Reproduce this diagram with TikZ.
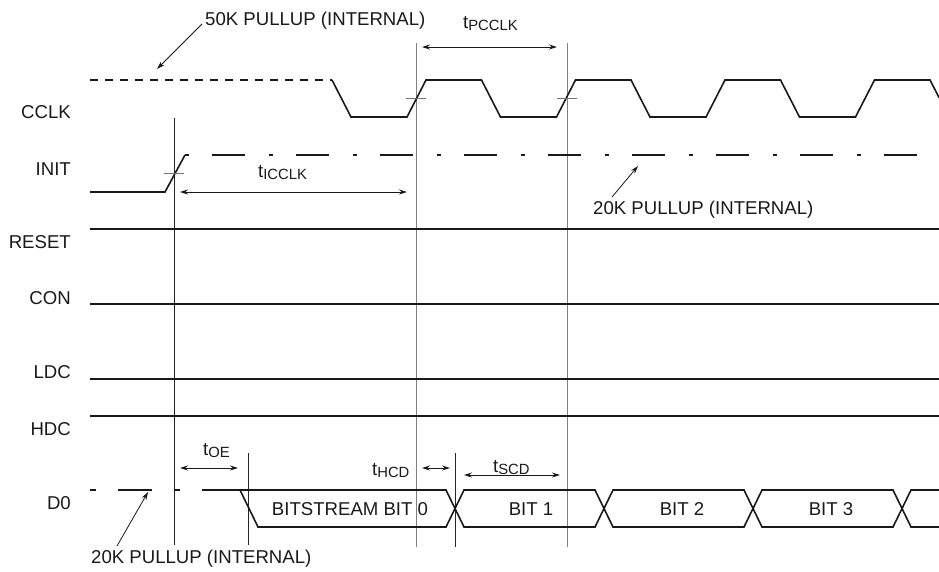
\documentclass[tikz,border=0pt]{standalone}
\usepackage{fontspec}
\setmainfont{Liberation Sans}
\usetikzlibrary{arrows.meta}
\newcommand{\tlab}[1]{t\raisebox{-2pt}{\fontsize{14.8}{14.8}\selectfont #1}}
\begin{document}
\begin{tikzpicture}[x=1pt,y=-1pt,
  sig/.style={line width=1.6pt,line join=miter,color=black!90},
  vline/.style={line width=0.9pt,color=black!85},
  gline/.style={line width=1pt,color=black!50},
  tickm/.style={line width=0.9pt,color=black!55},
  dim/.style={line width=0.9pt,color=black!90,{Stealth[length=8pt,width=5pt]}-{Stealth[length=8pt,width=5pt]}},
  pointer/.style={line width=0.8pt,color=black!90,-{Stealth[length=8pt,width=5pt]}},
  lbl/.style={font=\fontsize{18.6}{20}\selectfont,inner sep=0pt,text=black!90},
  sname/.style={lbl,anchor=base east}]
\useasboundingbox (0,0) rectangle (939,571);
\fill[white] (0,0) rectangle (939,571);

% signal names
\node[sname] (nCCLK) at (71,118) {CCLK};
\node[sname] (nINIT) at (71,175) {INIT};
\node[sname] (nRESET) at (71,248) {RESET};
\node[sname] (nCON) at (71,304) {CON};
\node[sname] (nLDC) at (71,378) {LDC};
\node[sname] (nHDC) at (71,435) {HDC};
\node[sname] (nD0) at (71,509) {D0};

% vertical reference lines
\draw[vline] (174,118) -- (174,545);
\draw[gline] (416,43) -- (416,547);
\draw[gline] (567,43) -- (567,547);
\draw[vline] (248,453) -- (248,545);
\draw[vline] (455,453) -- (455,547);

% CCLK
\draw[sig,dash pattern=on 8pt off 7pt] (90,80) -- (332,80);
\draw[sig] (332,80) -- (351,117) -- (407,117) -- (426,80) -- (481.5,80)
  -- (500.5,117) -- (556.5,117) -- (575.5,80) -- (631,80) -- (650,117)
  -- (706,117) -- (725,80) -- (780.5,80) -- (799.5,117) -- (855.5,117)
  -- (874.5,80) -- (930,80) -- (939,97.5);
\draw[tickm] (406,98.5) -- (426,98.5);
\draw[tickm] (557,98.5) -- (577,98.5);

% INIT
\draw[sig] (90,192) -- (165,192) -- (185,155);
\draw[sig,dash pattern=on 4pt off 23pt on 33pt off 24pt] (185,155) -- (939,155);
\draw[tickm] (164,173.5) -- (184,173.5);

% static lines
\draw[sig] (90,229) -- (939,229);
\draw[sig] (90,304) -- (939,304);
\draw[sig] (90,379) -- (939,379);
\draw[sig] (90,416) -- (939,416);

% D0
\draw[sig] (90,490) -- (96,490);
\draw[sig] (118,490) -- (152,490);
\draw[sig] (174,490) -- (180,490);
\draw[sig] (202,490) -- (446,490) -- (464,527) -- (595,527) -- (613,490) -- (744,490) -- (762,527) -- (893,527) -- (911,490) -- (939,490);
\draw[sig] (240,490) -- (258,527) -- (446,527) -- (464,490) -- (595,490) -- (613,527) -- (744,527) -- (762,490) -- (893,490) -- (911,527) -- (939,527);

\node[lbl,anchor=base] (b0) at (350,515) {BITSTREAM BIT 0};
\node[lbl,anchor=base] (b1) at (531,515) {BIT 1};
\node[lbl,anchor=base] (b2) at (682,515) {BIT 2};
\node[lbl,anchor=base] (b3) at (831,515) {BIT 3};

% timing annotations
\node[lbl,anchor=base west] (tpcclk) at (463,28) {\tlab{PCCLK}};
\coordinate (pa) at (422,47); \coordinate (pb) at (557,47);
\draw[dim] (pa) -- (pb);
\node[lbl,anchor=base west] (ticclk) at (258,177) {\tlab{ICCLK}};
\coordinate (ia) at (180,192); \coordinate (ib) at (407,192);
\draw[dim] (ia) -- (ib);
\node[lbl,anchor=base west] (toe) at (203,455) {\tlab{OE}};
\coordinate (oa) at (180,468); \coordinate (ob) at (238,468);
\draw[dim] (oa) -- (ob);
\node[lbl,anchor=base west] (thcd) at (372,475) {\tlab{HCD}};
\coordinate (ha) at (422,468); \coordinate (hb) at (450,468);
\draw[dim] (ha) -- (hb);
\node[lbl,anchor=base west] (tscd) at (493,472) {\tlab{SCD}};
\coordinate (sa) at (464,475); \coordinate (sb) at (560,475);
\draw[dim] (sa) -- (sb);

% pullup notes
\node[lbl,anchor=base west] (n50k) at (205,25) {50K PULLUP (INTERNAL)};
\coordinate (a50t) at (202,24); \coordinate (a50h) at (157,69);
\draw[pointer] (a50t) -- (a50h);
\node[lbl,anchor=base west] (n20ka) at (593,214) {20K PULLUP (INTERNAL)};
\coordinate (a20t) at (612,197); \coordinate (a20h) at (638,166);
\draw[pointer] (a20t) -- (a20h);
\node[lbl,anchor=base west] (n20kb) at (91,563) {20K PULLUP (INTERNAL)};
\coordinate (b20t) at (117,546); \coordinate (b20h) at (148,492);
\draw[pointer] (b20t) -- (b20h);
\end{tikzpicture}
\end{document}
